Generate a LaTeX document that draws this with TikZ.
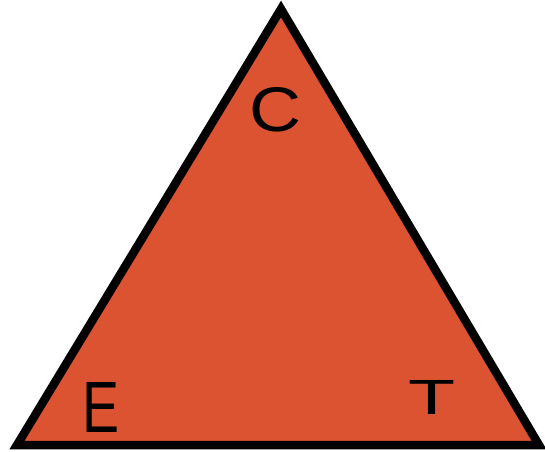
\documentclass[tikz,border=0pt]{standalone}
\usepackage{fontspec}
\setmainfont{Liberation Sans}
\definecolor{fireRed}{HTML}{DB5331}
\usetikzlibrary{positioning}

\begin{document}
\begin{tikzpicture}[
    x=1pt, y=-1pt,
    side/.style={draw=black, fill=fireRed, line width=8.5pt, line join=miter},
    letter/.style={inner sep=0pt, text=black, anchor=center},
  ]
    \useasboundingbox (0,0) rectangle (545,451);

    % corners
    \coordinate (top) at (281,9);
    \coordinate (left) at (17,445);
    \coordinate (right) at (539,445);

    % triangle
    \draw[side] (top) -- (left) -- (right) -- cycle;

    % letters
    \node[letter] (c) at (276,110) {\resizebox{52pt}{44pt}{C}};
    \node[letter] (e) at (101,407) {\resizebox{37pt}{50pt}{E}};
    \node[letter] (t) at (432,397) {\resizebox{47pt}{34pt}{T}};
\end{tikzpicture}
\end{document}
